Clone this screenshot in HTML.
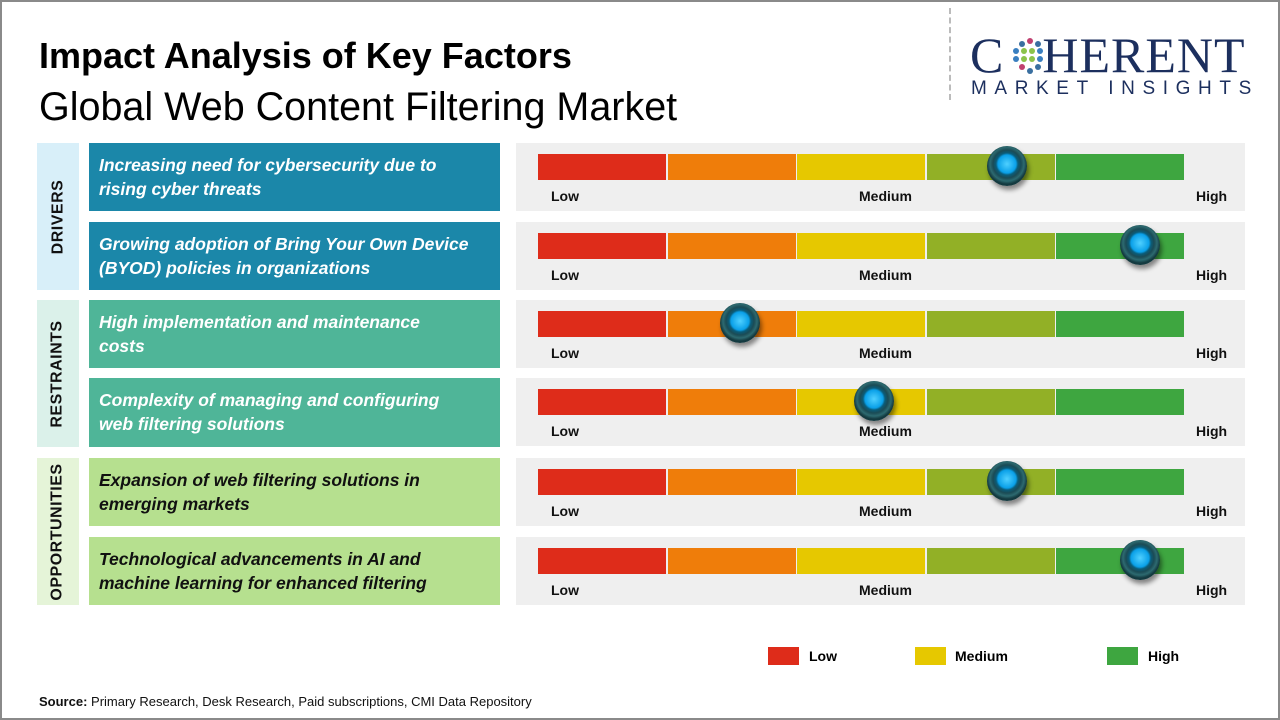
<!DOCTYPE html><html><head><style>
body{margin:0;width:1280px;height:720px;overflow:hidden;background:#fff;font-family:"Liberation Sans",sans-serif}
.frame{position:absolute;left:0;top:0;width:1276px;height:716px;border:2px solid #8a8a8a}
.a{position:absolute}
.cat{position:absolute;left:37px;width:42px;display:flex;align-items:center;justify-content:center}
.cat span{transform:rotate(-90deg);font-weight:bold;font-size:16px;color:#111;white-space:nowrap;letter-spacing:0.5px}
.tb{position:absolute;left:89px;width:411px;height:68px;box-sizing:border-box;padding:10px 10px;font-style:italic;font-weight:bold;font-size:17.5px;line-height:24px;color:#fff;white-space:nowrap}
.gp{position:absolute;left:516px;width:729px;height:68px;background:#efefef}
.seg{position:absolute;top:11px;height:26px;width:128px}
.lb{position:absolute;top:45px;font-size:14px;font-weight:bold;color:#111}
.knob{position:absolute;top:3px;width:40px;height:40px;border-radius:50%;background:radial-gradient(circle at 50% 45%,#4fd0ff 0,#0aa0e8 9px,#0a5d7a 11px,#1b4b55 14px,#2d6a70 17px,#143a40 20px);box-shadow:2px 4px 5px rgba(0,0,0,.45)}
</style></head><body>
<div class="frame"></div>
<div class="a" style="left:39px;top:35px;font-size:36px;font-weight:bold;color:#000">Impact Analysis of Key Factors</div>
<div class="a" style="left:39px;top:85px;font-size:39.5px;color:#000">Global Web Content Filtering Market</div>
<div class="a" style="left:949px;top:8px;height:92px;border-left:2px dashed #bbb"></div>
<div class="a" style="left:970px;top:28px;font-family:'Liberation Serif',serif;font-size:50px;color:#1c2f5e;letter-spacing:1px;line-height:54px">C<span style="display:inline-block;width:38px"></span>HERENT</div>
<svg class="a" style="left:1010px;top:36px" width="40" height="40"><g fill="#3a7fc0"><circle cx="20" cy="5" r="3" fill="#c04070"/><circle cx="12" cy="8" r="3" fill="#3a6fa0"/><circle cx="28" cy="8" r="3" fill="#3a6fa0"/><circle cx="6" cy="15" r="3"/><circle cx="14" cy="15" r="3" fill="#8bc34a"/><circle cx="22" cy="15" r="3" fill="#8bc34a"/><circle cx="30" cy="15" r="3"/><circle cx="6" cy="23" r="3"/><circle cx="14" cy="23" r="3" fill="#8bc34a"/><circle cx="22" cy="23" r="3" fill="#8bc34a"/><circle cx="30" cy="23" r="3"/><circle cx="12" cy="31" r="3" fill="#c04070"/><circle cx="28" cy="31" r="3" fill="#3a6fa0"/><circle cx="20" cy="35" r="3" fill="#3a6fa0"/></g></svg>
<div class="a" style="left:971px;top:78px;font-size:19px;color:#1c2f5e;letter-spacing:7.6px">MARKET INSIGHTS</div>

<div class="cat" style="top:143px;height:147px;background:#d8eff9"><span>DRIVERS</span></div>
<div class="cat" style="top:300px;height:147px;background:#dbf1ea"><span>RESTRAINTS</span></div>
<div class="cat" style="top:458px;height:147px;background:#e5f4d8"><span>OPPORTUNITIES</span></div>

<div class="tb" style="top:143px;background:#1b87a9">Increasing need for cybersecurity due to<br>rising cyber threats</div>
<div class="tb" style="top:222px;background:#1b87a9">Growing adoption of Bring Your Own Device<br>(BYOD) policies in organizations</div>
<div class="tb" style="top:300px;background:#4fb598">High implementation and maintenance<br>costs</div>
<div class="tb" style="top:378px;background:#4fb598;height:69px">Complexity of managing and configuring<br>web filtering solutions</div>
<div class="tb" style="top:458px;background:#b6e08f;color:#111">Expansion of web filtering solutions in<br>emerging markets</div>
<div class="tb" style="top:537px;background:#b6e08f;color:#111">Technological advancements in AI and<br>machine learning for enhanced filtering</div>

<div id="g"></div>
<script>
var tops=[143,222,300,378,458,537],k=[1007,1140,740,874,1007,1140],c=['#de2c1a','#ef7d0a','#e6c800','#92b026','#3ea640'],h='';
tops.forEach(function(t,i){h+='<div class="gp" style="top:'+t+'px">';for(var j=0;j<5;j++)h+='<div class="seg" style="left:'+(22+j*129.6)+'px;background:'+c[j]+'"></div>';
h+='<div class="lb" style="left:35px">Low</div><div class="lb" style="left:343px">Medium</div><div class="lb" style="left:680px">High</div><div class="knob" style="left:'+(k[i]-516-20)+'px"></div></div>';});
document.getElementById('g').innerHTML=h;
</script>

<div class="a" style="left:768px;top:647px;width:31px;height:18px;background:#de2c1a"></div>
<div class="a" style="left:809px;top:648px;font-size:14px;font-weight:bold">Low</div>
<div class="a" style="left:915px;top:647px;width:31px;height:18px;background:#e6c800"></div>
<div class="a" style="left:955px;top:648px;font-size:14px;font-weight:bold">Medium</div>
<div class="a" style="left:1107px;top:647px;width:31px;height:18px;background:#3ea640"></div>
<div class="a" style="left:1148px;top:648px;font-size:14px;font-weight:bold">High</div>
<div class="a" style="left:39px;top:694px;font-size:13px;color:#111"><b>Source:</b> Primary Research, Desk Research, Paid subscriptions, CMI Data Repository</div>
</body></html>
